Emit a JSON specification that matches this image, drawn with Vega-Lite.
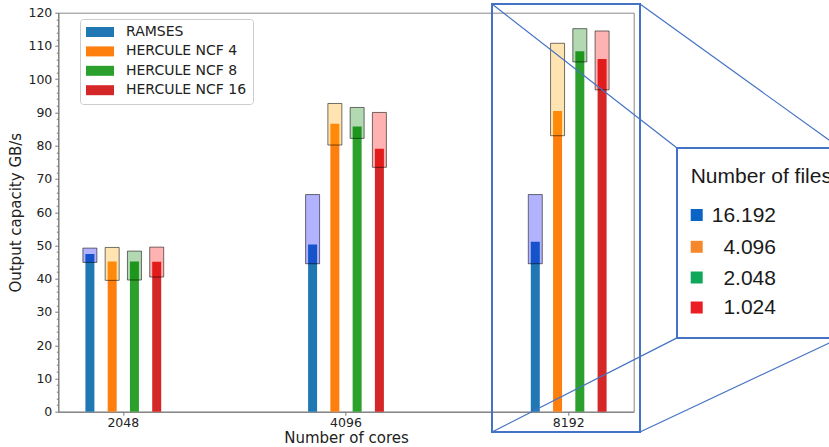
{
  "$schema": "https://vega.github.io/schema/vega-lite/v6.json",
  "width": 575.4,
  "height": 399,
  "autosize": {"type": "none"},
  "padding": {"left": 58.3, "top": 12.7, "right": 195.3, "bottom": 35.3},
  "config": {
    "view": {"stroke": "#888888", "strokeWidth": 1},
    "font": "DejaVu Sans",
    "axis": {
      "labelFont": "DejaVu Sans", "titleFont": "DejaVu Sans",
      "labelFontSize": 12.5, "titleFontSize": 15, "titleFontWeight": "normal",
      "labelColor": "#222222", "titleColor": "#222222",
      "domainColor": "#777777", "tickColor": "#777777", "grid": false
    }
  },
  "datasets": {
    "main": [
      {"cores": "2048", "series": "RAMSES", "value": 47.4, "lo": 44.9, "hi": 49.2},
      {"cores": "2048", "series": "HERCULE NCF 4", "value": 45.2, "lo": 39.5, "hi": 49.4},
      {"cores": "2048", "series": "HERCULE NCF 8", "value": 45.2, "lo": 39.6, "hi": 48.3},
      {"cores": "2048", "series": "HERCULE NCF 16", "value": 45.1, "lo": 40.5, "hi": 49.5},
      {"cores": "4096", "series": "RAMSES", "value": 50.3, "lo": 44.5, "hi": 65.3},
      {"cores": "4096", "series": "HERCULE NCF 4", "value": 86.6, "lo": 80.2, "hi": 92.7},
      {"cores": "4096", "series": "HERCULE NCF 8", "value": 85.8, "lo": 82.2, "hi": 91.5},
      {"cores": "4096", "series": "HERCULE NCF 16", "value": 79.1, "lo": 73.5, "hi": 90.0},
      {"cores": "8192", "series": "RAMSES", "value": 51.1, "lo": 44.5, "hi": 65.3},
      {"cores": "8192", "series": "HERCULE NCF 4", "value": 90.4, "lo": 83.0, "hi": 110.8},
      {"cores": "8192", "series": "HERCULE NCF 8", "value": 108.4, "lo": 105.2, "hi": 115.2},
      {"cores": "8192", "series": "HERCULE NCF 16", "value": 106.1, "lo": 96.8, "hi": 114.5}
    ],
    "zoombox": [{"x0": 1.6556, "x1": 2.3202, "y0": 122.6, "y1": -6.1}],
    "connectors": [
      {"x0": 1.6556, "y0": 122.6, "x1": 2.4863, "y1": 79.3},
      {"x0": 2.3202, "y0": 122.6, "x1": 3.2183, "y1": 79.3},
      {"x0": 1.6556, "y0": -6.1, "x1": 2.4863, "y1": 22.2},
      {"x0": 2.3202, "y0": -6.1, "x1": 3.2183, "y1": 22.2}
    ],
    "inset": [{"x0": 2.4863, "x1": 3.2183, "y0": 79.3, "y1": 22.2}],
    "insetTitle": [{"x": 2.5478, "y": 68.69, "text": "Number of files"}],
    "insetItems": [
      {"label": "16.192", "xs": 2.5748, "xt": 2.9308, "y": 59.16},
      {"label": "4.096", "xs": 2.5748, "xt": 2.9308, "y": 49.59},
      {"label": "2.048", "xs": 2.5748, "xt": 2.9308, "y": 40.36},
      {"label": "1.024", "xs": 2.5748, "xt": 2.9308, "y": 31.34}
    ]
  },
  "layer": [
    {
      "data": {"name": "main"},
      "layer": [
        {
          "mark": {"type": "bar", "width": 9},
          "encoding": {
            "x": {"field": "cores", "type": "nominal", "sort": ["2048", "4096", "8192"],
                  "scale": {"paddingInner": 0.6, "paddingOuter": 0.0919},
                  "axis": {"title": "Number of cores", "labelAngle": 0, "tickSize": 3.5, "labelPadding": 1, "titlePadding": 2}},
            "xOffset": {"field": "series", "type": "nominal",
                        "sort": ["RAMSES", "HERCULE NCF 4", "HERCULE NCF 8", "HERCULE NCF 16"],
                        "scale": {"paddingInner": 0, "paddingOuter": 0}},
            "y": {"field": "value", "type": "quantitative",
                  "scale": {"domain": [0, 120], "nice": false, "zero": false},
                  "axis": {"title": "Output capacity GB/s", "orient": "left", "values": [0, 10, 20, 30, 40, 50, 60, 70, 80, 90, 100, 110, 120],
                           "tickSize": 3.5, "labelPadding": 3, "titlePadding": 4}},
            "color": {"field": "series", "type": "nominal",
                      "scale": {"domain": ["RAMSES", "HERCULE NCF 4", "HERCULE NCF 8", "HERCULE NCF 16"],
                                "range": ["#1f77b4", "#ff7f0e", "#2ca02c", "#d62728"]},
                      "legend": {"title": null, "orient": "none", "legendX": 21.7, "legendY": 6.3,
                                 "labelFont": "DejaVu Sans", "labelFontSize": 14, "labelColor": "#222222",
                                 "symbolType": "M-2,-0.714H2V0.714H-2Z", "symbolSize": 196, "symbolStrokeWidth": 0,
                                 "symbolOpacity": 1, "symbolOffset": 7, "labelOffset": 19, "padding": 6, "rowPadding": 5.4,
                                 "strokeColor": "#cccccc", "fillColor": "#ffffff", "cornerRadius": 3}}
          }
        },
        {
          "mark": {"type": "bar", "width": 14, "fillOpacity": 0.3, "stroke": "#000000", "strokeOpacity": 0.55, "strokeWidth": 1},
          "encoding": {
            "x": {"field": "cores", "type": "nominal", "sort": ["2048", "4096", "8192"],
                  "scale": {"paddingInner": 0.6, "paddingOuter": 0.0919},
                  "axis": {"title": "Number of cores", "labelAngle": 0, "tickSize": 3.5, "labelPadding": 1, "titlePadding": 2}},
            "xOffset": {"field": "series", "type": "nominal",
                        "sort": ["RAMSES", "HERCULE NCF 4", "HERCULE NCF 8", "HERCULE NCF 16"],
                        "scale": {"paddingInner": 0, "paddingOuter": 0}},
            "y": {"field": "lo", "type": "quantitative",
                  "scale": {"domain": [0, 120], "nice": false, "zero": false},
                  "axis": {"title": "Output capacity GB/s", "orient": "left", "values": [0, 10, 20, 30, 40, 50, 60, 70, 80, 90, 100, 110, 120],
                           "tickSize": 3.5, "labelPadding": 3, "titlePadding": 4}},
            "y2": {"field": "hi"},
            "fill": {"field": "series", "type": "nominal",
                     "scale": {"domain": ["RAMSES", "HERCULE NCF 4", "HERCULE NCF 8", "HERCULE NCF 16"],
                               "range": ["#0000ff", "#ffa500", "#008000", "#ff0000"]},
                     "legend": null}
          }
        }
      ]
    },
    {
      "layer": [
        {
          "data": {"name": "zoombox"},
          "mark": {"type": "rect", "fillOpacity": 0, "stroke": "#4472c4", "strokeWidth": 2, "clip": false},
          "encoding": {
            "x": {"field": "x0", "type": "quantitative", "scale": {"domain": [-0.29187, 2.29187], "nice": false, "zero": false}, "axis": null},
            "x2": {"field": "x1"},
            "y": {"field": "y0", "type": "quantitative", "scale": {"domain": [0, 120], "nice": false, "zero": false},
                  "axis": {"orient": "left", "title": null, "labels": false, "domain": false, "tickSize": 2, "values": [2, 4, 6, 8, 12, 14, 16, 18, 22, 24, 26, 28, 32, 34, 36, 38, 42, 44, 46, 48, 52, 54, 56, 58, 62, 64, 66, 68, 72, 74, 76, 78, 82, 84, 86, 88, 92, 94, 96, 98, 102, 104, 106, 108, 112, 114, 116, 118]}},
            "y2": {"field": "y1"}
          }
        },
        {
          "data": {"name": "connectors"},
          "mark": {"type": "rule", "stroke": "#4472c4", "strokeWidth": 1.2, "clip": false},
          "encoding": {
            "x": {"field": "x0", "type": "quantitative", "scale": {"domain": [-0.29187, 2.29187], "nice": false, "zero": false}, "axis": null},
            "x2": {"field": "x1"},
            "y": {"field": "y0", "type": "quantitative", "scale": {"domain": [0, 120], "nice": false, "zero": false},
                  "axis": {"orient": "left", "title": null, "labels": false, "domain": false, "tickSize": 2, "values": [2, 4, 6, 8, 12, 14, 16, 18, 22, 24, 26, 28, 32, 34, 36, 38, 42, 44, 46, 48, 52, 54, 56, 58, 62, 64, 66, 68, 72, 74, 76, 78, 82, 84, 86, 88, 92, 94, 96, 98, 102, 104, 106, 108, 112, 114, 116, 118]}},
            "y2": {"field": "y1"}
          }
        },
        {
          "data": {"name": "inset"},
          "mark": {"type": "rect", "fill": "#ffffff", "stroke": "#4472c4", "strokeWidth": 2, "clip": false},
          "encoding": {
            "x": {"field": "x0", "type": "quantitative", "scale": {"domain": [-0.29187, 2.29187], "nice": false, "zero": false}, "axis": null},
            "x2": {"field": "x1"},
            "y": {"field": "y0", "type": "quantitative", "scale": {"domain": [0, 120], "nice": false, "zero": false},
                  "axis": {"orient": "left", "title": null, "labels": false, "domain": false, "tickSize": 2, "values": [2, 4, 6, 8, 12, 14, 16, 18, 22, 24, 26, 28, 32, 34, 36, 38, 42, 44, 46, 48, 52, 54, 56, 58, 62, 64, 66, 68, 72, 74, 76, 78, 82, 84, 86, 88, 92, 94, 96, 98, 102, 104, 106, 108, 112, 114, 116, 118]}},
            "y2": {"field": "y1"}
          }
        },
        {
          "data": {"name": "insetTitle"},
          "mark": {"type": "text", "font": "Liberation Sans", "fontSize": 21, "color": "#1a1a1a", "align": "left", "baseline": "alphabetic", "clip": false},
          "encoding": {
            "x": {"field": "x", "type": "quantitative", "scale": {"domain": [-0.29187, 2.29187], "nice": false, "zero": false}, "axis": null},
            "y": {"field": "y", "type": "quantitative", "scale": {"domain": [0, 120], "nice": false, "zero": false},
                  "axis": {"orient": "left", "title": null, "labels": false, "domain": false, "tickSize": 2, "values": [2, 4, 6, 8, 12, 14, 16, 18, 22, 24, 26, 28, 32, 34, 36, 38, 42, 44, 46, 48, 52, 54, 56, 58, 62, 64, 66, 68, 72, 74, 76, 78, 82, 84, 86, 88, 92, 94, 96, 98, 102, 104, 106, 108, 112, 114, 116, 118]}},
            "text": {"field": "text"}
          }
        },
        {
          "data": {"name": "insetItems"},
          "mark": {"type": "square", "size": 144, "opacity": 1, "clip": false},
          "encoding": {
            "x": {"field": "xs", "type": "quantitative", "scale": {"domain": [-0.29187, 2.29187], "nice": false, "zero": false}, "axis": null},
            "y": {"field": "y", "type": "quantitative", "scale": {"domain": [0, 120], "nice": false, "zero": false},
                  "axis": {"orient": "left", "title": null, "labels": false, "domain": false, "tickSize": 2, "values": [2, 4, 6, 8, 12, 14, 16, 18, 22, 24, 26, 28, 32, 34, 36, 38, 42, 44, 46, 48, 52, 54, 56, 58, 62, 64, 66, 68, 72, 74, 76, 78, 82, 84, 86, 88, 92, 94, 96, 98, 102, 104, 106, 108, 112, 114, 116, 118]}},
            "fill": {"field": "label", "type": "nominal",
                     "scale": {"domain": ["16.192", "4.096", "2.048", "1.024"], "range": ["#0b63c6", "#f4882b", "#0fa85a", "#ec1c24"]},
                     "legend": null}
          }
        },
        {
          "data": {"name": "insetItems"},
          "mark": {"type": "text", "font": "Liberation Sans", "fontSize": 21, "color": "#1a1a1a", "align": "right", "baseline": "middle", "dy": 1, "clip": false},
          "encoding": {
            "x": {"field": "xt", "type": "quantitative", "scale": {"domain": [-0.29187, 2.29187], "nice": false, "zero": false}, "axis": null},
            "y": {"field": "y", "type": "quantitative", "scale": {"domain": [0, 120], "nice": false, "zero": false},
                  "axis": {"orient": "left", "title": null, "labels": false, "domain": false, "tickSize": 2, "values": [2, 4, 6, 8, 12, 14, 16, 18, 22, 24, 26, 28, 32, 34, 36, 38, 42, 44, 46, 48, 52, 54, 56, 58, 62, 64, 66, 68, 72, 74, 76, 78, 82, 84, 86, 88, 92, 94, 96, 98, 102, 104, 106, 108, 112, 114, 116, 118]}},
            "text": {"field": "label"}
          }
        }
      ]
    }
  ],
  "resolve": {"scale": {"x": "independent", "fill": "independent"}, "axis": {"y": "independent"}}
}
